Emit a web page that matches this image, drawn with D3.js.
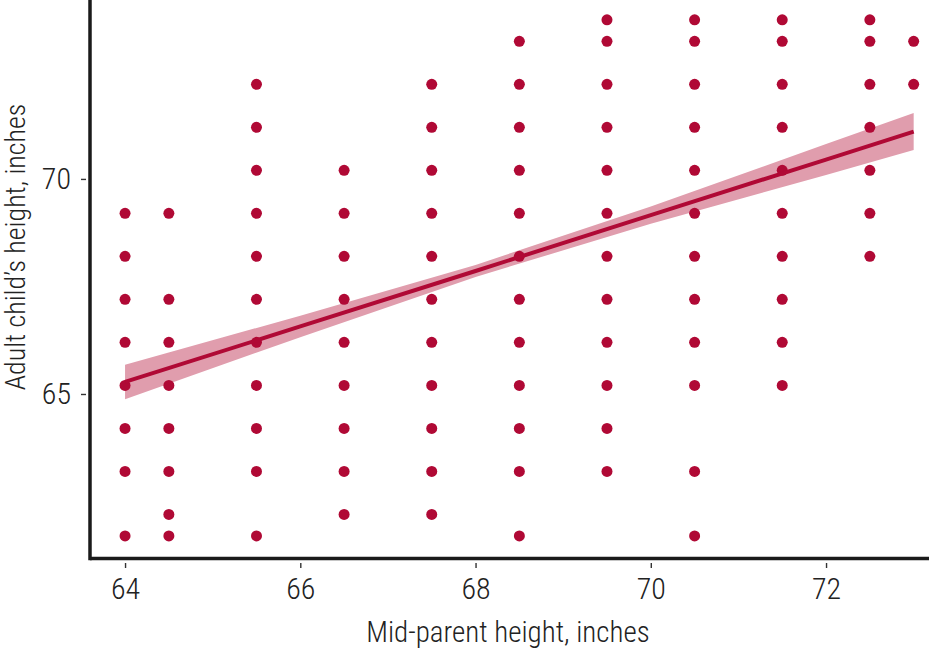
<!DOCTYPE html>
<html><head><meta charset="utf-8">
<script src="https://cdn.jsdelivr.net/npm/d3@7"></script>
<style>
body{margin:0;background:#fff;}
svg text{font-family:"Roboto Condensed","Liberation Sans Narrow","DejaVu Sans Condensed",Roboto,sans-serif;font-stretch:condensed;font-weight:300;}
</style></head>
<body><svg id="chart" width="929" height="649"></svg>
<script>
// Mid-parent heights (x categories) and the child heights observed at each
const parentHeights = [64, 64.5, 65.5, 66.5, 67.5, 68.5, 69.5, 70.5, 71.5, 72.5, 73];
const childHeightsByParent = [
  [69.2, 68.2, 67.2, 66.2, 65.2, 64.2, 63.2, 61.7],
  [69.2, 67.2, 66.2, 65.2, 64.2, 63.2, 62.2, 61.7],
  [72.2, 71.2, 70.2, 69.2, 68.2, 67.2, 66.2, 65.2, 64.2, 63.2, 61.7],
  [70.2, 69.2, 68.2, 67.2, 66.2, 65.2, 64.2, 63.2, 62.2],
  [72.2, 71.2, 70.2, 69.2, 68.2, 67.2, 66.2, 65.2, 64.2, 63.2, 62.2],
  [73.2, 72.2, 71.2, 70.2, 69.2, 68.2, 67.2, 66.2, 65.2, 64.2, 63.2, 61.7],
  [73.7, 73.2, 72.2, 71.2, 70.2, 69.2, 68.2, 67.2, 66.2, 65.2, 64.2, 63.2],
  [73.7, 73.2, 72.2, 71.2, 70.2, 69.2, 68.2, 67.2, 66.2, 65.2, 63.2, 61.7],
  [73.7, 73.2, 72.2, 71.2, 70.2, 69.2, 68.2, 67.2, 66.2, 65.2],
  [73.7, 73.2, 72.2, 71.2, 70.2, 69.2, 68.2],
  [73.2, 72.2]
];
// Linear fit with confidence band
const fitX     = [64, 66, 68, 70, 72, 73];
const fitY     = [65.28, 66.57, 67.86, 69.16, 70.45, 71.10];
const fitLower = [64.88, 66.32, 67.72, 68.96, 70.09, 70.67];
const fitUpper = [65.68, 66.82, 68.00, 69.36, 70.81, 71.53];
const xTicks = [64, 66, 68, 70, 72];
const yTicks = [65, 70];
const xTitle = "Mid-parent height, inches";
const yTitle = "Adult child\u2019s height, inches";

const points = [];
parentHeights.forEach((p, i) => childHeightsByParent[i].forEach(c => points.push({x: p, y: c})));
const fit = fitX.map((x, i) => ({x, y: fitY[i], lo: fitLower[i], hi: fitUpper[i]}));

const svg = d3.select("#chart");
const pL = 90, pR = 929, pT = 0, pB = 557;
const x = d3.scaleLinear().domain([63.6, 73.175]).range([pL, pR]);
const y = d3.scaleLinear().domain([61.21, 74.16]).range([pB, pT]);

const red = "#b00935";

svg.append("path").datum(fit)
  .attr("d", d3.area().x(d => x(d.x)).y0(d => y(d.lo)).y1(d => y(d.hi)))
  .attr("fill", "#e09dad");

svg.append("g").selectAll("circle").data(points).join("circle")
  .attr("cx", d => x(d.x)).attr("cy", d => y(d.y)).attr("r", 5.5)
  .attr("fill", red);

svg.append("path").datum(fit)
  .attr("d", d3.line().x(d => x(d.x)).y(d => y(d.y)))
  .attr("fill", "none").attr("stroke", red).attr("stroke-width", 4);

const xAxis = svg.append("g").attr("transform", `translate(0,${pB})`)
  .call(d3.axisBottom(x).tickValues(xTicks).tickSize(11).tickPadding(10).tickFormat(d3.format("d")));
const yAxis = svg.append("g").attr("transform", `translate(${pL},0)`)
  .call(d3.axisLeft(y).tickValues(yTicks).tickSize(9).tickPadding(10).tickFormat(d3.format("d")));
[xAxis, yAxis].forEach(a => {
  a.attr("font-family", null);
  a.select(".domain").remove();
  a.selectAll(".tick line").attr("stroke", "#333").attr("stroke-width", 1.4);
  a.selectAll(".tick text").attr("fill", "#222").attr("font-size", 30);
});
xAxis.selectAll(".tick line").attr("y1", 6);
yAxis.selectAll(".tick line").attr("x1", -4);
svg.append("line").attr("x1", pL).attr("x2", pR).attr("y1", pB + 1.5).attr("y2", pB + 1.5)
  .attr("stroke", "#1a1a1a").attr("stroke-width", 3.5);
svg.append("line").attr("x1", pL).attr("x2", pL).attr("y1", pT).attr("y2", pB + 3.2)
  .attr("stroke", "#1a1a1a").attr("stroke-width", 3.5);

svg.append("text").attr("x", 508).attr("y", 642)
  .attr("text-anchor", "middle").attr("font-size", 29).attr("fill", "#222").text(xTitle);
svg.append("text").attr("transform", `translate(25,247) rotate(-90)`)
  .attr("text-anchor", "middle").attr("font-size", 28).attr("fill", "#222").text(yTitle);
</script></body></html>
